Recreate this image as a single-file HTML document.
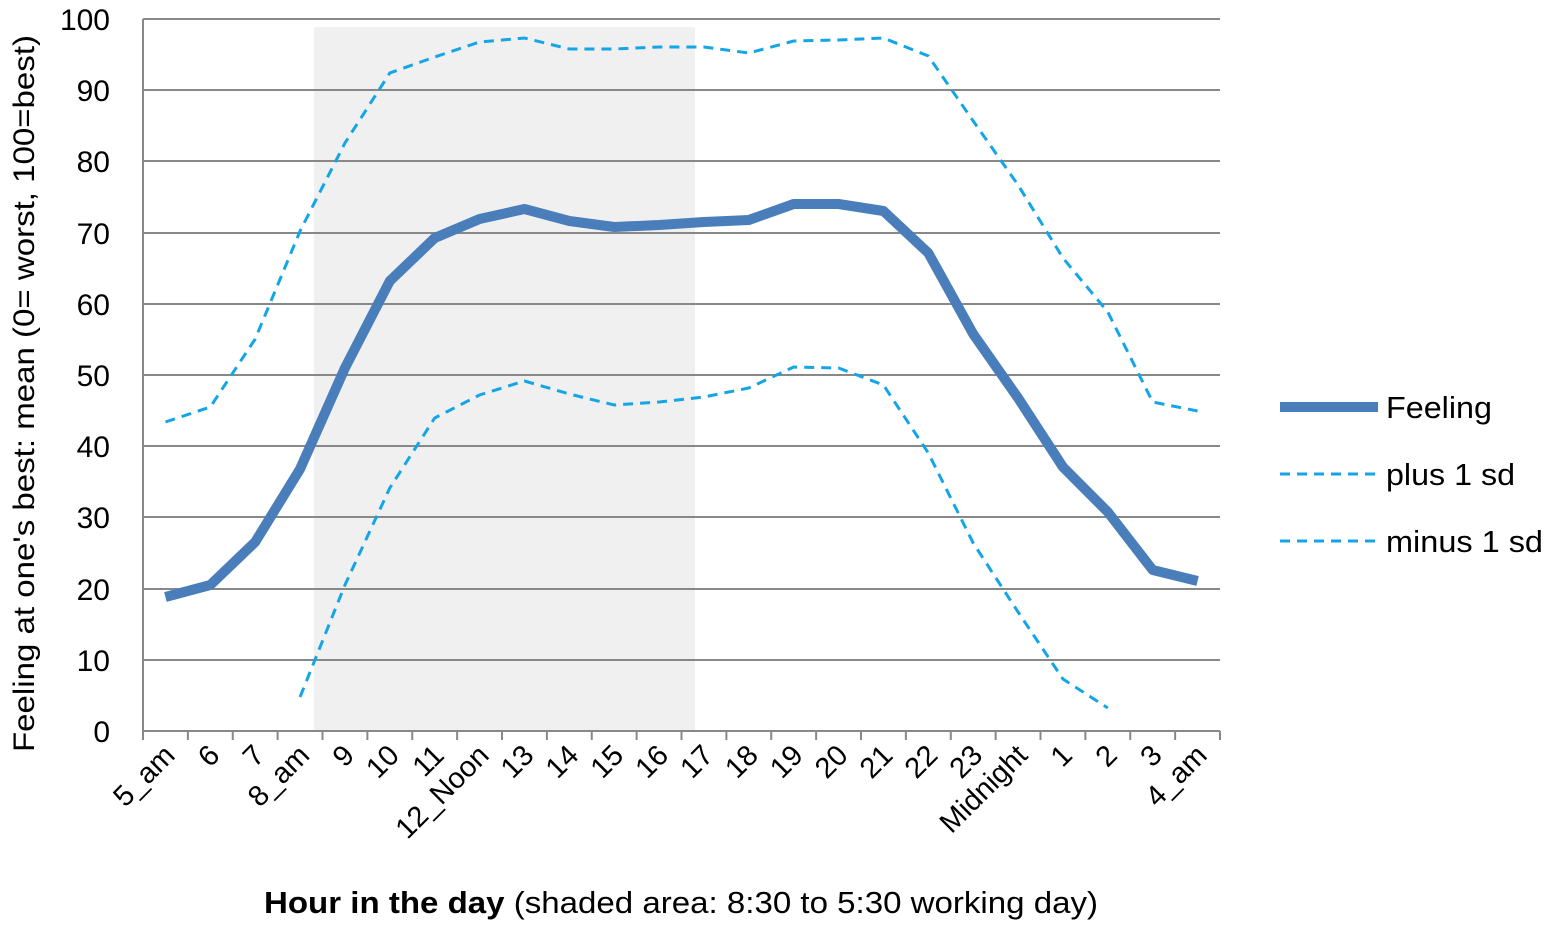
<!DOCTYPE html>
<html><head><meta charset="utf-8"><style>body{margin:0;background:#fff}svg{display:block;font-family:"Liberation Sans",Calibri,sans-serif}</style></head><body>
<svg width="1548" height="927" viewBox="0 0 1548 927" xmlns="http://www.w3.org/2000/svg">
<rect x="314" y="27" width="381" height="704" fill="#f0f0f0"/>
<g stroke="#888" stroke-width="2">
<line x1="143" y1="19" x2="1220" y2="19"/><line x1="143" y1="90" x2="1220" y2="90"/><line x1="143" y1="161" x2="1220" y2="161"/><line x1="143" y1="233" x2="1220" y2="233"/><line x1="143" y1="304" x2="1220" y2="304"/><line x1="143" y1="375" x2="1220" y2="375"/><line x1="143" y1="446" x2="1220" y2="446"/><line x1="143" y1="517" x2="1220" y2="517"/><line x1="143" y1="589" x2="1220" y2="589"/><line x1="143" y1="660" x2="1220" y2="660"/>
<line x1="143" y1="731" x2="1220" y2="731"/><line x1="143" y1="19" x2="143" y2="731"/>
</g>
<g id="ticks" stroke="#888" stroke-width="2"></g>
<g font-size="30" fill="#000" text-anchor="end">
<text x="110" y="30">100</text><text x="110" y="101">90</text><text x="110" y="172">80</text><text x="110" y="244">70</text><text x="110" y="315">60</text><text x="110" y="386">50</text><text x="110" y="457">40</text><text x="110" y="528">30</text><text x="110" y="600">20</text><text x="110" y="671">10</text><text x="110" y="742">0</text>
</g>
<g id="xl" font-size="29" text-anchor="end"></g>
<text transform="translate(34,752) rotate(-90)" font-size="30" textLength="717" lengthAdjust="spacingAndGlyphs">Feeling at one's best: mean (0= worst, 100=best)</text>
<text x="264" y="913" font-size="31" textLength="834" lengthAdjust="spacingAndGlyphs"><tspan font-weight="bold">Hour in the day</tspan> (shaded area: 8:30 to 5:30 working day)</text>
<polyline id="plus" fill="none" stroke="#14a5e6" stroke-width="3" stroke-dasharray="10,7"/>
<polyline id="minus" fill="none" stroke="#14a5e6" stroke-width="3" stroke-dasharray="10,7"/>
<polyline id="feel" fill="none" stroke="#4a7ebb" stroke-width="10" stroke-linejoin="round"/>
<line x1="1280" y1="407" x2="1378" y2="407" stroke="#4a7ebb" stroke-width="10"/>
<line x1="1280" y1="474" x2="1378" y2="474" stroke="#14a5e6" stroke-width="3" stroke-dasharray="10,7"/>
<line x1="1280" y1="541" x2="1378" y2="541" stroke="#14a5e6" stroke-width="3" stroke-dasharray="10,7"/>
<g font-size="31"><text x="1386" y="418" textLength="106" lengthAdjust="spacingAndGlyphs">Feeling</text><text x="1386" y="485" textLength="129" lengthAdjust="spacingAndGlyphs">plus 1 sd</text><text x="1386" y="552" textLength="157" lengthAdjust="spacingAndGlyphs">minus 1 sd</text></g>
</svg>
<script>
var labs=["5_am","6","7","8_am","9","10","11","12_Noon","13","14","15","16","17","18","19","20","21","22","23","Midnight","1","2","3","4_am"];
var w=1077/24,cx=i=>143+w/2+i*w;
var t="",xl="";
for(var i=0;i<=24;i++){var x=143+i*w;t+='<line x1="'+x+'" y1="731" x2="'+x+'" y2="740"/>';}
labs.forEach((l,i)=>{var x=cx(i)+11,y=757;xl+='<text transform="translate('+x+','+y+') rotate(-45)">'+l+'</text>';});
document.getElementById('ticks').innerHTML=t;document.getElementById('xl').innerHTML=xl;
var feel=[597,585,542,469,368,281,238,219,209,221,227,225,222,220,204,204,211,253,334,398,467,512,570,581];
var plus=[422,407,339,231,143,73,57,42,38,49,49,47,47,53,41,40,38,56,121,185,258,312,402,411];
var minus=[697,585,488,418,395,381,394,405,402,397,388,367,368,385,453,543,612,679,708];
var p=(a,o)=>a.map((y,i)=>cx(i+o)+','+y).join(' ');
document.getElementById('feel').setAttribute('points',p(feel,0));
document.getElementById('plus').setAttribute('points',p(plus,0));
document.getElementById('minus').setAttribute('points',p(minus,3));
</script>
</body></html>
